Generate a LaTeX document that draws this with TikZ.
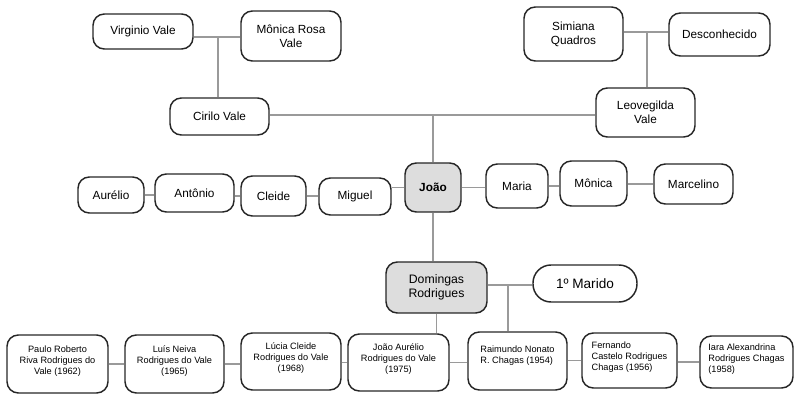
\documentclass[tikz,border=0pt]{standalone}
\usepackage{fontspec}
\setmainfont{Liberation Sans}
\definecolor{lnk}{HTML}{9A9A9A}
\definecolor{brd}{HTML}{262626}
\definecolor{fillg}{HTML}{DDDDDD}
\begin{document}
\begin{tikzpicture}[x=0.75pt,y=-0.75pt,
  box/.style={draw=brd, line width=1.1pt, rounded corners=8.5pt, align=center, inner sep=1pt,
    font=\fontsize{8.85}{10.5}\selectfont},
  sz/.style 2 args={minimum width={#1*0.75pt}, minimum height={#2*0.75pt}},
  small/.style={font=\fontsize{6.9}{8.3}\selectfont, text depth=6pt},
  hl/.style={fill=fillg},
  link/.style={draw=lnk, line width=1.1pt}]
\useasboundingbox (0,0) rectangle (794,395);

% top generation
\node[box, sz={100}{35}] (virg) at (143,31.5) {Virginio Vale};
\node[box, sz={100}{50}] (monr) at (291,36) {Mônica Rosa\\Vale};
\node[box, sz={99}{37}]  (cir)  at (219.5,116.5) {Cirilo Vale};
\node[box, sz={99}{54}]  (sim)  at (573.5,34) {Simiana\\Quadros};
\node[box, sz={101}{43}] (desc) at (719.5,34.5) {Desconhecido};
\node[box, sz={99}{49}]  (leo)  at (645.5,112.5) {Leovegilda\\Vale};

% middle row
\node[box, sz={66}{36}] (aur)  at (111,195) {Aurélio};
\node[box, sz={79}{38}] (ant)  at (194.5,193) {Antônio};
\node[box, sz={65}{40}] (cle)  at (273.5,196) {Cleide};
\node[box, sz={72}{37}] (mig)  at (355,196.5) {Miguel};
\node[box, hl, sz={56}{49}, font=\fontsize{8.85}{10.5}\selectfont\bfseries] (joao) at (433,187.5) {João};
\node[box, sz={62}{44}] (maria) at (517,186) {Maria};
\node[box, sz={67}{45}] (monica) at (593.5,183.5) {Mônica};
\node[box, sz={79}{40}] (marc) at (693.5,184) {Marcelino};

% Domingas and husband
\node[box, hl, sz={101}{51}, font=\fontsize{9.2}{10.8}\selectfont] (dom) at (436.5,287.5) {Domingas\\Rodrigues};
\node[box, sz={104}{37}, rounded corners=13.5pt, font=\fontsize{10.2}{12}\selectfont] (mar1) at (585,283.5) {1º Marido};

% bottom row
\node[box, small, sz={101}{58}] (paulo) at (57.5,364) {Paulo Roberto\\Riva Rodrigues do\\Vale (1962)};
\node[box, small, sz={99}{58}]  (luis)  at (174.5,364) {Luís Neiva\\Rodrigues do Vale\\(1965)};
\node[box, small, sz={100}{57}] (lucia) at (291,361.5) {Lúcia Cleide\\Rodrigues do Vale\\(1968)};
\node[box, small, sz={101}{57}] (jaur)  at (398.5,362.5) {João Aurélio\\Rodrigues do Vale\\(1975)};
\node[box, small, sz={99}{58}, align=left, text depth=10pt] (raim) at (517.5,361) {Raimundo Nonato\\R. Chagas (1954)};
\node[box, small, sz={95}{55}, align=left] (fern) at (629.5,360.5) {Fernando\\Castelo Rodrigues\\Chagas (1956)};
\node[box, small, sz={93}{52}, align=left] (iara) at (746.5,362) {Iara Alexandrina\\Rodrigues Chagas\\(1958)};

% junction points
\coordinate (vm) at (218,37);
\coordinate (sd) at (647,32);
\coordinate (cl) at (433,115);
\coordinate (dm) at (508,285);

% connectors
\draw[link] (virg.east |- vm) -- (monr.west |- vm);
\draw[link] (vm) -- (cir.north -| vm);
\draw[link] (sim.east |- sd) -- (desc.west |- sd);
\draw[link] (sd) -- (leo.north -| sd);
\draw[link] (cir.east |- cl) -- (leo.west |- cl);
\draw[link] (cl) -- (joao.north -| cl);

\draw[link] (aur.east) -- (ant.west |- aur.east);
\draw[link] (ant.east |- cle.west) -- (cle.west);
\draw[link] (cle.east) -- (mig.west |- cle.east);
\draw[link] (mig.east |- joao.west) -- (joao.west);
\draw[link] (joao.east) -- (maria.west |- joao.east);
\draw[link] (maria.east) -- (monica.west |- maria.east);
\draw[link] (monica.east |- marc.west) -- (marc.west);

\draw[link] (joao.south) -- (joao.south |- dom.north);
\draw[link] (dom.east |- dm) -- (mar1.west |- dm);
\draw[link] (dm) -- (raim.north -| dm);
\draw[link] (dom.south) -- (dom.south |- jaur.north);

\draw[link] (paulo.east) -- (luis.west |- paulo.east);
\draw[link] (luis.east) -- (lucia.west |- luis.east);
\draw[link] (lucia.east |- jaur.west) -- (jaur.west);
\draw[link] (jaur.east) -- (raim.west |- jaur.east);
\draw[link] (raim.east |- fern.west) -- (fern.west);
\draw[link] (fern.east |- iara.west) -- (iara.west);
\end{tikzpicture}
\end{document}
